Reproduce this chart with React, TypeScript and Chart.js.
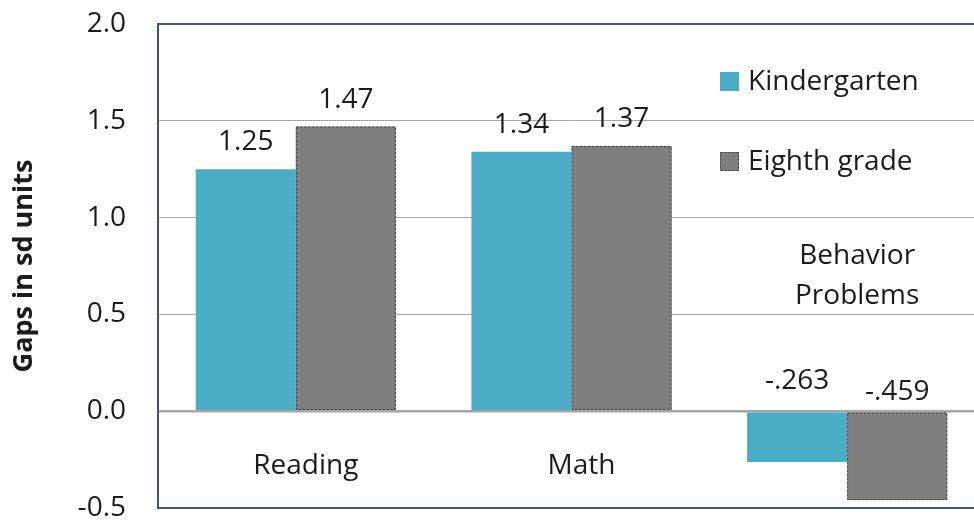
import React, { useEffect, useRef } from "react";
import { Chart, registerables } from "chart.js";

Chart.register(...registerables);

const categories: string[][] = [["Reading"], ["Math"], ["Behavior", "Problems"]];
const seriesNames: string[] = ["Kindergarten", "Eighth grade"];
const kindergarten: number[] = [1.25, 1.34, -0.263];
const eighthGrade: number[] = [1.47, 1.37, -0.459];
const yTicks: number[] = [-0.5, 0, 0.5, 1.0, 1.5, 2.0];
const yTitle = "Gaps in sd units";

const FONT = "'Open Sans', 'Noto Sans', sans-serif";
const TEXT = "#1c1c1c";
const BLUE = "#4BACC6";
const GRAY = "#7F7F7F";

function fmt(v: number): string {
  if (v >= 0) return v.toFixed(2);
  return "-" + Math.abs(v).toFixed(3).replace(/^0/, "");
}

const overlayPlugin = {
  id: "overlay",
  afterDatasetsDraw(chart: any) {
    const ctx = chart.ctx;
    const area = chart.chartArea;
    const ys = chart.scales.y;
    const xs = chart.scales.x;
    const zeroY = ys.getPixelForValue(0);
    ctx.save();
    // dashed outline for eighth grade bars
    const meta1 = chart.getDatasetMeta(1);
    ctx.strokeStyle = "#3a3a3a";
    ctx.lineWidth = 1;
    ctx.setLineDash([2, 2]);
    meta1.data.forEach((el: any) => {
      const p = el.getProps(["x", "y", "base", "width"], true);
      const top = Math.min(p.y, p.base);
      const h = Math.abs(p.base - p.y);
      ctx.strokeRect(p.x - p.width / 2 + 0.5, top + 0.5, p.width - 1, h - 1);
    });
    ctx.setLineDash([]);

    // value labels
    ctx.font = `28px ${FONT}`;
    ctx.fillStyle = TEXT;
    ctx.textAlign = "center";
    ctx.textBaseline = "middle";
    chart.data.datasets.forEach((ds: any, di: number) => {
      const meta = chart.getDatasetMeta(di);
      meta.data.forEach((el: any, i: number) => {
        const v = ds.data[i];
        const p = el.getProps(["x", "y"], true);
        const y = v >= 0 ? p.y - 27 : zeroY - (di === 0 ? 30 : 19);
        ctx.fillText(fmt(v), p.x, y);
      });
    });

    // category labels inside plot
    categories.forEach((lines, i) => {
      const allPos = kindergarten[i] >= 0 && eighthGrade[i] >= 0;
      const x = xs.getPixelForValue(i) + 10;
      const startVal = allPos ? -0.283 : 0.8;
      const y0 = ys.getPixelForValue(startVal);
      lines.forEach((ln, k) => {
        ctx.fillText(ln, x, y0 + k * 40);
      });
    });

    // legend inside plot
    const colors = [BLUE, GRAY];
    const lx = area.right - 265;
    seriesNames.forEach((name, i) => {
      const cy = area.top + 58 + i * 80;
      ctx.fillStyle = colors[i];
      ctx.fillRect(lx, cy - 10, 19, 19);
      if (i === 1) {
        ctx.strokeStyle = "#3a3a3a";
        ctx.setLineDash([2, 2]);
        ctx.strokeRect(lx + 0.5, cy - 9.5, 18, 18);
        ctx.setLineDash([]);
      }
      ctx.fillStyle = TEXT;
      ctx.textAlign = "left";
      ctx.fillText(name, lx + 28, cy);
    });

    // plot border
    ctx.strokeStyle = "#3B5676";
    ctx.lineWidth = 2;
    ctx.strokeRect(area.left, area.top, area.right - area.left, area.bottom - area.top);
    ctx.restore();
  },
};

export default function App() {
  const ref = useRef<HTMLCanvasElement | null>(null);
  useEffect(() => {
    if (!ref.current) return;
    const chart = new Chart(ref.current, {
      type: "bar",
      data: {
        labels: categories.map((c) => c.join(" ")),
        datasets: [
          {
            label: seriesNames[0],
            data: kindergarten,
            backgroundColor: BLUE,
            borderWidth: 0,
          },
          {
            label: seriesNames[1],
            data: eighthGrade,
            backgroundColor: GRAY,
            borderWidth: 0,
          },
        ],
      },
      options: {
        responsive: false,
        animation: false,
        layout: { padding: { left: 0, right: 15, top: 24, bottom: 12 } },
        datasets: {
          bar: { categoryPercentage: 0.726, barPercentage: 1.0 },
        },
        plugins: {
          legend: { display: false },
          tooltip: { enabled: false },
        },
        scales: {
          x: {
            display: false,
            grid: { display: false },
          },
          y: {
            min: yTicks[0],
            max: yTicks[yTicks.length - 1],
            afterFit: (scale: any) => {
              scale.width = 158;
              scale.paddingTop = 0;
              scale.paddingBottom = 0;
            },
            afterBuildTicks: (scale: any) => {
              scale.ticks = yTicks.map((v) => ({ value: v }));
            },
            border: { display: false },
            grid: {
              drawTicks: false,
              color: "#A6A6A6",
              lineWidth: (c: any) => (c.tick && c.tick.value === 0 ? 2.5 : 1),
            },
            ticks: {
              padding: 32,
              color: TEXT,
              font: { family: FONT, size: 28 },
              callback: (v: any) => Number(v).toFixed(1),
            },
            title: {
              display: true,
              text: yTitle,
              color: TEXT,
              padding: { top: 8, bottom: 0 },
              font: { family: FONT, size: 27, weight: "bold" },
            },
          },
        },
      },
      plugins: [overlayPlugin],
    });
    return () => chart.destroy();
  }, []);
  return (
    <div style={{ position: "fixed", left: 0, top: 0, width: 974, height: 520, overflow: "hidden", background: "#fff" }}>
      <canvas ref={ref} width={1000} height={520} style={{ width: 1000, height: 520, display: "block" }} />
    </div>
  );
}
